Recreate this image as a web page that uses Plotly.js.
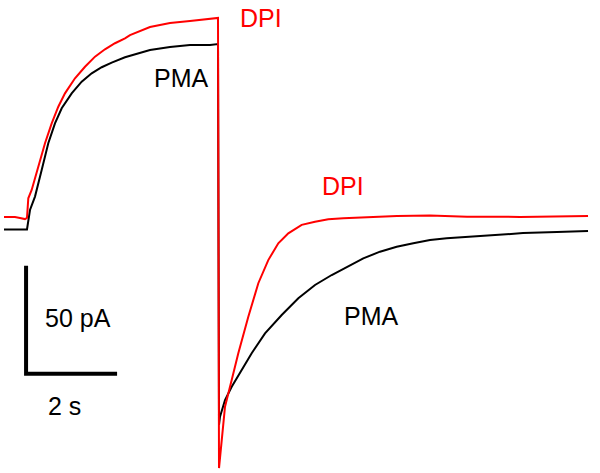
<!DOCTYPE html>
<html>
<head>
<meta charset="utf-8">
<script src="https://cdn.plot.ly/plotly-3.0.1.min.js"></script>
<style>
  html, body { margin: 0; padding: 0; background: #fff; }
  #plot { width: 600px; height: 473px; }
</style>
</head>
<body>
<div id="plot"></div>
<script>
// time in s (step onset = 0), current in pA (PMA baseline = 0)
const pmaTime = [-0.505, 0, 0.066, 0.176, 0.323, 0.468, 0.615, 0.763, 0.982, 1.202, 1.422, 1.642, 1.862, 2.154, 2.703, 3.143, 3.582, 4.022, 4.198,
  4.220, 4.242, 4.352, 4.499, 4.719, 4.938, 5.231, 5.598, 5.963, 6.330, 6.697, 7.026, 7.391, 7.758, 8.125, 8.490, 8.857, 9.224, 9.664,
  10.176, 10.901, 11.648, 12.330];
const pmaCurrent = [-0.2, -0.2, 8.8, 15.0, 27.3, 39.7, 48.9, 55.9, 62.8, 68.2, 72.1, 74.9, 77.0, 79.5, 82.9, 84.3, 85.2, 85.2, 85.6,
  -90.7, -86.9, -79.2, -73.0, -65.3, -57.5, -48.3, -39.8, -32.1, -25.9, -21.3, -17.5, -13.6, -10.5, -8.2, -6.6, -5.1, -4.3, -3.6,
  -2.8, -1.9, -1.4, -0.9];

const dpiTime = [-0.505, -0.264, -0.154, -0.044, 0, 0.029, 0.103, 0.248, 0.396, 0.543, 0.688, 0.835, 1.055, 1.275, 1.495, 1.714, 1.934, 2.154,
  2.264, 2.703, 3.143, 3.582, 4.022, 4.198,
  4.220, 4.279, 4.352, 4.499, 4.644, 4.864, 5.084, 5.303, 5.523, 5.743, 6.037, 6.330, 6.622, 6.952, 7.385, 8.132, 8.857, 9.670,
  10.835, 12.330];
const dpiCurrent = [5.6, 5.6, 5.1, 4.6, 5.1, 14.2, 18.1, 28.8, 39.7, 48.9, 56.6, 62.8, 69.8, 75.1, 79.8, 83.2, 86.0, 88.3,
  89.8, 93.5, 95.4, 96.3, 97.2, 97.7,
  -110.7, -97.7, -82.3, -69.9, -57.5, -40.6, -25.1, -14.4, -6.6, -2.0, 1.9, 3.4, 4.5, 5.0, 5.4, 6.0, 6.2, 5.7,
  5.6, 6.0];

// scale bar
const scaleT = 2;   // s
const scaleI = 50;  // pA
const scaleOrigin = [-0.02, -67];

const labels = [
  {text: 'DPI', t: 5.14, i: 97.7, color: '#ff0000'},
  {text: 'PMA', t: 3.39, i: 69.9, color: '#000000'},
  {text: 'DPI', t: 6.95, i: 19.9, color: '#ff0000'},
  {text: 'PMA', t: 7.58, i: -40.3, color: '#000000'},
  {text: '50 pA', t: 1.13, i: -41.2, color: '#000000'},
  {text: '2 s', t: 0.82, i: -81.9, color: '#000000'}
];

const pma = {
  x: pmaTime, y: pmaCurrent, mode: 'lines', type: 'scatter',
  line: {color: '#000000', width: 2}, hoverinfo: 'skip'
};
const dpi = {
  x: dpiTime, y: dpiCurrent, mode: 'lines', type: 'scatter',
  line: {color: '#ff0000', width: 2}, hoverinfo: 'skip'
};
const bar = {
  x: [scaleOrigin[0], scaleOrigin[0], scaleOrigin[0] + scaleT],
  y: [scaleOrigin[1] + scaleI, scaleOrigin[1], scaleOrigin[1]],
  mode: 'lines', type: 'scatter',
  line: {color: '#000000', width: 4}, hoverinfo: 'skip'
};

const layout = {
  width: 600, height: 473,
  margin: {l: 0, r: 0, t: 0, b: 0},
  showlegend: false,
  paper_bgcolor: '#ffffff', plot_bgcolor: '#ffffff',
  xaxis: {range: [-0.593, 12.593], visible: false, fixedrange: true},
  yaxis: {range: [-112.96, 106.02], visible: false, fixedrange: true},
  annotations: labels.map(l => ({
    text: l.text, x: l.t, y: l.i, xref: 'x', yref: 'y',
    showarrow: false, xanchor: 'center', yanchor: 'middle',
    font: {family: 'Arial, Liberation Sans, sans-serif', size: 25, color: l.color}
  }))
};

Plotly.newPlot('plot', [pma, dpi, bar], layout, {displayModeBar: false, staticPlot: true});
</script>
</body>
</html>
